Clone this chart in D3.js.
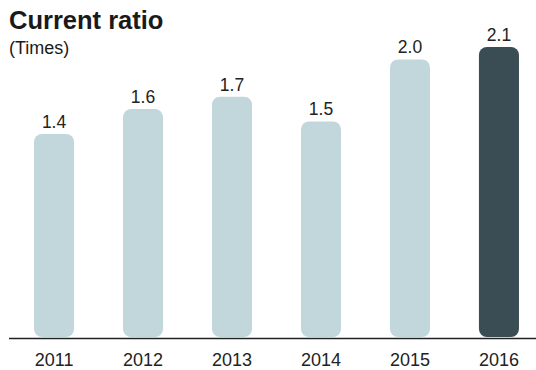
<!DOCTYPE html>
<html>
<head>
<meta charset="utf-8">
<title>Current ratio</title>
<style>
  body { margin: 0; background: #fff; }
  svg text { font-family: "Liberation Sans", Arial, sans-serif; }
  .title { font-weight: bold; font-size: 25.5px; fill: #1a1a1a; }
  .sub { font-size: 18px; fill: #1a1a1a; }
  .lbl { font-size: 17.5px; fill: #222; }
  .tick text { font-size: 18px; fill: #222; }
</style>
</head>
<body>
<svg id="chart"></svg>
<script src="https://cdn.jsdelivr.net/npm/d3@7"></script>
<script>
  const years = ['2011', '2012', '2013', '2014', '2015', '2016'];
  const ratios = [1.4, 1.6, 1.7, 1.5, 2.0, 2.1];
  const labels = ['1.4', '1.6', '1.7', '1.5', '2.0', '2.1'];

  const width = 536, height = 370;
  const svg = d3.select('#chart').attr('width', width).attr('height', height);

  svg.append('text').attr('class', 'title').attr('x', 9).attr('y', 29).text('Current ratio');
  svg.append('text').attr('class', 'sub').attr('x', 9).attr('y', 54).text('(Times)');

  const x = d3.scaleBand().domain(years).range([10, 543]).paddingInner(0.55).paddingOuter(0.27);
  // baseline sits a bit below zero in the original artwork
  const y = d3.scaleLinear().domain([-0.244, 2.1]).range([338, 47]);

  svg.append('g').selectAll('rect')
    .data(years)
    .join('rect')
    .attr('x', d => x(d))
    .attr('width', x.bandwidth())
    .attr('y', (d, i) => y(ratios[i]))
    .attr('height', (d, i) => 337 - y(ratios[i]))
    .attr('rx', 8)
    .attr('fill', (d, i) => i === years.length - 1 ? '#3b4d54' : '#c2d7dc');

  svg.append('g').selectAll('text')
    .data(years)
    .join('text')
    .attr('class', 'lbl')
    .attr('x', d => x(d) + x.bandwidth() / 2)
    .attr('y', (d, i) => y(ratios[i]) - 6)
    .attr('text-anchor', 'middle')
    .text((d, i) => labels[i]);

  svg.append('line').attr('x1', 9).attr('x2', width).attr('y1', 338.5).attr('y2', 338.5)
    .attr('stroke', '#222').attr('stroke-width', 1.4);

  const ax = svg.append('g').attr('transform', 'translate(0,339)')
    .call(d3.axisBottom(x).tickSize(0).tickPadding(14));
  ax.attr('font-family', null).attr('font-size', null);
  ax.select('.domain').remove();
</script>
</body>
</html>
